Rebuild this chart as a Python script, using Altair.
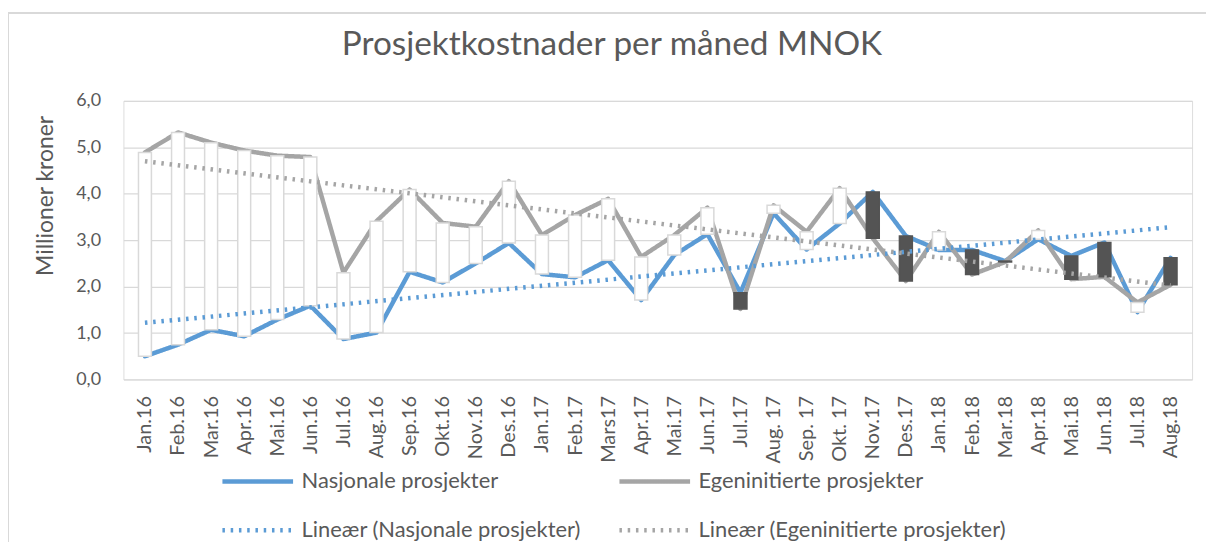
import json
import altair as alt
import pandas as pd

months = ["Jan.16", "Feb.16", "Mar.16", "Apr.16", "Mai.16", "Jun.16", "Jul.16", "Aug.16",
          "Sep.16", "Okt.16", "Nov.16", "Des.16", "Jan.17", "Feb.17", "Mars17", "Apr.17",
          "Mai.17", "Jun.17", "Jul.17", "Aug. 17", "Sep. 17", "Okt. 17", "Nov.17", "Des.17",
          "Jan.18", "Feb.18", "Mar.18", "Apr.18", "Mai.18", "Jun.18", "Jul.18", "Aug.18"]

nasjonale = [0.50, 0.75, 1.07, 0.93, 1.29, 1.59, 0.87, 1.01, 2.32, 2.09, 2.50, 2.94,
             2.27, 2.20, 2.57, 1.71, 2.68, 3.13, 1.87, 3.58, 2.80, 3.36, 4.04, 3.09,
             2.79, 2.79, 2.55, 3.02, 2.66, 2.95, 1.45, 2.62]

egeninitierte = [4.89, 5.32, 5.10, 4.93, 4.82, 4.79, 2.30, 3.41, 4.09, 3.37, 3.29, 4.27,
                 3.11, 3.54, 3.89, 2.64, 3.11, 3.70, 1.52, 3.75, 3.18, 4.12, 3.04, 2.12,
                 3.18, 2.26, 2.53, 3.21, 2.16, 2.21, 1.66, 2.04]

series_names = ["Nasjonale prosjekter", "Egeninitierte prosjekter",
                "Lineær (Nasjonale prosjekter)", "Lineær (Egeninitierte prosjekter)"]
series_colors = ["#5B9BD5", "#A5A5A5", "#5B9BD5", "#A5A5A5"]

title_text = "Prosjektkostnader per måned MNOK"
y_title = "Millioner kroner"

# ---- tables built from the arrays ----
rows = []
for i, m in enumerate(months):
    rows.append({"i": i, "month": m, "serie": series_names[0], "value": nasjonale[i]})
for i, m in enumerate(months):
    rows.append({"i": i, "month": m, "serie": series_names[1], "value": egeninitierte[i]})
long_df = pd.DataFrame(rows)

wide_df = pd.DataFrame({"i": list(range(len(months))), "month": months,
                        "nasj": nasjonale, "egen": egeninitierte})

W, H = 1074, 280
TEXT = "#595959"

label_expr = json.dumps(months) + "[datum.value]"
x_scale = alt.Scale(domain=[-0.5, len(months) - 0.5], nice=False, zero=False)
x_axis = alt.Axis(values=list(range(len(months))), labelExpr=label_expr,
                  labelAngle=-90, labelFont="Lato", labelFontSize=20,
                  labelColor=TEXT, labelPadding=16, ticks=False, domain=False,
                  grid=False, labelOverlap=False, labelFlush=False, title=None)
y_scale = alt.Scale(domain=[0, 6], nice=False)
y_axis = alt.Axis(values=[0, 1, 2, 3, 4, 5, 6],
                  labelExpr="replace(format(datum.value, '.1f'), '.', ',')",
                  labelFont="Lato", labelFontSize=18, labelColor=TEXT,
                  labelPadding=23, ticks=False, domain=False,
                  grid=True, gridColor="#d9d9d9", gridWidth=1.3,
                  title=y_title, titleFont="Lato", titleFontSize=23,
                  titleFontWeight="normal", titleColor=TEXT,
                  titleX=-78, titleY=95, titleAngle=-90,
                  titleAlign="center", titleBaseline="middle")


def xe(field="i:Q"):
    return alt.X(field, scale=x_scale, axis=x_axis)


def ye(field="value:Q"):
    return alt.Y(field, scale=y_scale, axis=y_axis)


legend = alt.Legend(title=None, orient="none", legendX=97, legendY=344.5,
                    columns=2, direction="horizontal", columnPadding=29, rowPadding=-30,
                    symbolType="stroke", symbolSize=5041,
                    labelFont="Lato", labelFontSize=22,
                    labelColor=TEXT, labelOffset=6, labelLimit=600, padding=0)

color_enc = alt.Color("serie:N", scale=alt.Scale(domain=series_names, range=series_colors),
                      legend=legend)
dash_enc = alt.StrokeDash("serie:N",
                          scale=alt.Scale(domain=series_names,
                                          range=[[1, 0], [1, 0], [2.5, 5.8], [2.5, 5.8]]),
                          legend=legend)
width_enc = alt.StrokeWidth("serie:N",
                            scale=alt.Scale(domain=series_names, range=[4.5, 4.5, 3, 3]),
                            legend=legend)

lines = alt.Chart(long_df).mark_line(strokeJoin="round", strokeCap="round").encode(
    x=xe(), y=ye(), color=color_enc, strokeDash=dash_enc, strokeWidth=width_enc,
    order=alt.Order("i:Q"))

up = "datum.egen >= datum.nasj"
bars = alt.Chart(wide_df).mark_bar(size=13, strokeWidth=1.5).encode(
    x=xe(),
    y=ye("nasj:Q"),
    y2=alt.Y2("egen:Q"),
    fill=alt.condition(up, alt.value("#ffffff"), alt.value("#545454")),
    stroke=alt.condition(up, alt.value("#d9d9d9"), alt.value("#545454")))

trend = alt.Chart(long_df).transform_regression(
    "i", "value", groupby=["serie"]
).transform_calculate(
    serie="'Lineær (' + datum.serie + ')'"
).mark_line().encode(
    x=xe(), y=ye(), color=color_enc, strokeDash=dash_enc, strokeWidth=width_enc)

border = alt.Chart(wide_df).mark_rect(fill=None, stroke="#d9d9d9", strokeWidth=1).encode(
    x=alt.value(-115.5), x2=alt.value(1100), y=alt.value(-88.5), y2=alt.value(460))

chart = alt.layer(border, lines, bars, trend).resolve_scale(
    x="shared", y="shared"
).properties(
    width=W, height=H,
    title=alt.TitleParams(title_text, font="Lato", fontSize=33.5, fontWeight="normal",
                          color=TEXT, anchor="middle", dx=-46, offset=-76,
                          baseline="alphabetic"),
    autosize=alt.AutoSizeParams(type="none"),
    padding={"left": 116, "top": 92, "right": 14, "bottom": 162},
).configure_view(stroke=None).configure(background="white")

chart.save("out.html", embed_options={"renderer": "svg", "actions": False})
